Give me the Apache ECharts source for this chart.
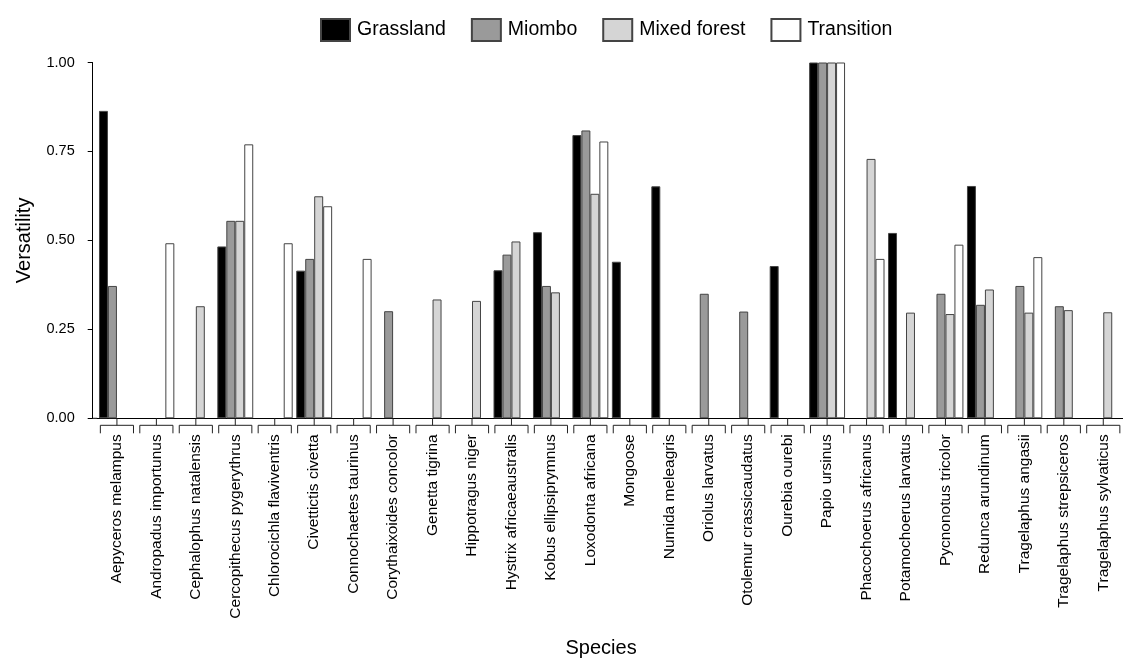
<!DOCTYPE html>
<html>
<head>
<meta charset="utf-8">
<title>Versatility by species and habitat</title>
<script src="https://cdn.jsdelivr.net/npm/echarts@6/dist/echarts.min.js"></script>
<style>
  html, body { margin: 0; padding: 0; background: #ffffff; }
  #chart { width: 1123px; height: 668px; }
</style>
</head>
<body>
<div id="chart"></div>
<script>
// Species on the x axis
const species = [
  'Aepyceros melampus', 'Andropadus importunus', 'Cephalophus natalensis',
  'Cercopithecus pygerythrus', 'Chlorocichla flaviventris', 'Civettictis civetta',
  'Connochaetes taurinus', 'Corythaixoides concolor', 'Genetta tigrina',
  'Hippotragus niger', 'Hystrix africaeaustralis', 'Kobus ellipsiprymnus',
  'Loxodonta africana', 'Mongoose', 'Numida meleagris', 'Oriolus larvatus',
  'Otolemur crassicaudatus', 'Ourebia ourebi', 'Papio ursinus',
  'Phacochoerus africanus', 'Potamochoerus larvatus', 'Pycnonotus tricolor',
  'Redunca arundinum', 'Tragelaphus angasii', 'Tragelaphus strepsiceros',
  'Tragelaphus sylvaticus'
];

// Versatility per habitat (null = species not recorded in that habitat)
const grassland = [
  0.864, null, null, 0.483, null, 0.415, null, null, null, null, 0.416, 0.523,
  0.796, 0.440, 0.652, null, null, 0.428, 1.00, null, 0.521, null, 0.653,
  null, null, null
];
const miombo = [
  0.372, null, null, 0.555, null, 0.448, null, 0.301, null, null, 0.460, 0.372,
  0.809, null, null, 0.350, 0.300, null, 1.00, null, null, 0.350, 0.319,
  0.372, 0.315, null
];
const mixedForest = [
  null, null, 0.315, 0.555, null, 0.624, null, null, 0.334, 0.330, 0.497, 0.354,
  0.631, null, null, null, null, null, 1.00, 0.729, 0.297, 0.293, 0.362,
  0.297, 0.304, 0.298
];
const transition = [
  null, 0.492, null, 0.770, 0.492, 0.596, 0.448, null, null, null, null, null,
  0.778, null, null, null, null, null, 1.00, 0.448, null, 0.488, null,
  0.453, null, null
];

const habitats = ['Grassland', 'Miombo', 'Mixed forest', 'Transition'];
const habitatValues = [grassland, miombo, mixedForest, transition];
const habitatFills = ['#000000', '#9a9a9a', '#d5d5d5', '#ffffff'];

const yTicks = [0, 0.25, 0.5, 0.75, 1];

const FONT = '"Liberation Sans", Arial, Helvetica, sans-serif';
const Y_OFFSET = 4.5;          // y axis line sits slightly left of the first band
const BRACKET_TOP = 7;         // px below the baseline
const BRACKET_BOTTOM = 15;

const chart = echarts.init(document.getElementById('chart'), null, { renderer: 'canvas' });

const barSeries = habitats.map((name, i) => ({
  name: name,
  type: 'bar',
  data: habitatValues[i],
  barGap: '0%',
  barCategoryGap: '9%',
  itemStyle: {
    color: habitatFills[i],
    borderColor: '#444444',
    borderWidth: 1
  },
  emphasis: { disabled: true },
  animation: false
}));

// Brackets under each species group, with the centre tick joining the axis
const bracketSeries = {
  type: 'custom',
  silent: true,
  animation: false,
  clip: false,
  data: species.map((_, i) => [i]),
  encode: { x: 0 },
  renderItem: function (params, api) {
    const idx = api.value(0);
    const p = api.coord([idx, 0]);
    const band = api.size([1, 0])[0];
    const half = band * 0.42;
    const x = p[0], y = p[1];
    const style = { stroke: '#222222', lineWidth: 1, fill: null };
    const children = [
      {
        type: 'polyline',
        shape: { points: [
          [x - half, y + BRACKET_BOTTOM], [x - half, y + BRACKET_TOP],
          [x + half, y + BRACKET_TOP], [x + half, y + BRACKET_BOTTOM]
        ] },
        style: style
      },
      {
        type: 'line',
        shape: { x1: x, y1: y, x2: x, y2: y + BRACKET_TOP },
        style: style
      }
    ];
    if (idx === 0) {
      // carry the baseline back to the y axis line
      children.push({
        type: 'line',
        shape: { x1: x - band / 2 - Y_OFFSET, y1: y, x2: x - band / 2, y2: y },
        style: { stroke: '#000000', lineWidth: 1 }
      });
    }
    return { type: 'group', children: children };
  }
};

chart.setOption({
  backgroundColor: '#ffffff',
  textStyle: { fontFamily: FONT, color: '#000000' },
  legend: {
    data: habitats,
    icon: 'rect',
    left: 315,
    top: 13,
    itemWidth: 29,
    itemHeight: 22,
    itemGap: 25,
    selectedMode: false,
    textStyle: { fontFamily: FONT, fontSize: 19.5, color: '#000000', padding: [0, 0, 0, 2] }
  },
  grid: {
    left: 97.2,
    right: -3.8,
    top: 62.5,
    bottom: 249.7,
    containLabel: false
  },
  xAxis: {
    type: 'category',
    data: species,
    name: 'Species',
    nameLocation: 'middle',
    nameGap: 220,
    nameTextStyle: { fontFamily: FONT, fontSize: 20, color: '#000000', padding: [0, 18, 0, 0] },
    axisLine: { show: true, lineStyle: { color: '#000000', width: 1 } },
    axisTick: { show: false },
    axisLabel: {
      rotate: 90,
      interval: 0,
      margin: 16,
      fontFamily: FONT,
      fontSize: 15.5,
      color: '#000000'
    },
    splitLine: { show: false }
  },
  yAxis: {
    type: 'value',
    min: 0,
    max: 1,
    interval: 0.25,
    offset: Y_OFFSET,
    name: 'Versatility',
    nameLocation: 'middle',
    nameGap: 58,
    nameTextStyle: { fontFamily: FONT, fontSize: 20, color: '#000000' },
    axisLine: { show: true, lineStyle: { color: '#000000', width: 1 } },
    axisTick: { show: true, length: 5, lineStyle: { color: '#000000' } },
    axisLabel: {
      margin: 18,
      fontFamily: FONT,
      fontSize: 14.5,
      color: '#000000',
      formatter: function (v) { return yTicks.indexOf(v) >= 0 ? v.toFixed(2) : ''; }
    },
    splitLine: { show: false }
  },
  series: barSeries.concat([bracketSeries])
});
</script>
</body>
</html>
